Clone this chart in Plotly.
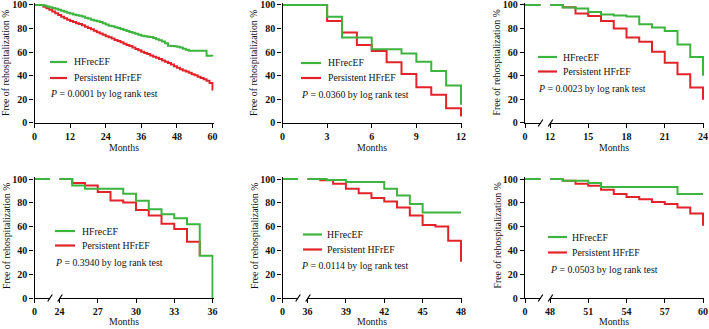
import plotly.graph_objects as go

W, H = 709, 329
GREEN = "#3db43f"
RED = "#e3232a"
FONT = "Liberation Serif"
TXT = "#111111"

# ---------------- data (months, % free of rehospitalization) ----------------
series_names = ["HFrecEF", "Persistent HFrEF"]
p_values = ["0.0001", "0.0360", "0.0023", "0.3940", "0.0114", "0.0503"]
y_ticks = [0, 20, 40, 60, 80, 100]
x_ticks = [
    [0, 12, 24, 36, 48, 60],
    [0, 3, 6, 9, 12],
    [12, 15, 18, 21, 24],
    [24, 27, 30, 33, 36],
    [36, 39, 42, 45, 48],
    [48, 51, 54, 57, 60],
]

# Panel 1: whole follow-up 0-60 months
p1_t = [0, 1, 2, 3, 4, 5, 6, 7, 8, 9, 10, 11, 12, 13, 14, 15, 16, 17, 18, 19, 20,
        21, 22, 23, 24, 25, 26, 27, 28, 29, 30, 31, 32, 33, 34, 35, 36, 37, 38, 39, 40,
        41, 42, 43, 44, 45, 46, 47, 48, 49, 50, 51, 52, 53, 54, 55, 56, 57, 58, 59, 60]
p1_hfrecef = [100, 100, 100, 99.5, 98.8, 98, 97.4, 96.8, 96, 95.2,
              94.3, 93.5, 92.7, 92, 91.4, 90.8, 90.2, 89.3, 88.5, 87.6,
              86.8, 86.2, 85.5, 84.5, 83.5, 82.5, 82, 81.2, 80.5, 79.6,
              78.8, 78, 77.2, 76.5, 75.6, 74.8, 74, 73.6, 73.2, 72.8,
              72, 71, 70.2, 69, 67.5, 65.5, 65.2, 65, 64.6, 64,
              63, 62, 61.3, 61.2, 61.2, 61.2, 61.2, 61.2, 57, 57, 56.5]
p1_persistent = [100, 100, 100, 98.5, 97.3, 96, 94.5, 93, 91.5, 90,
                 88.8, 87.6, 86.5, 85.5, 84.6, 83.8, 82.8, 81.6, 80.6, 79.5,
                 78.2, 77, 75.8, 74.8, 73.6, 72.6, 71.6, 70.4, 69.4, 68.4,
                 67.2, 66.2, 65.2, 64, 62.8, 61.6, 60.4, 59.4, 58.4, 57.2,
                 56.2, 55.2, 54.2, 53, 51.9, 50.8, 49.5, 48, 46.8, 45.6,
                 44.6, 43.6, 42.6, 41.4, 40.4, 39.2, 38.2, 37, 35.8, 34, 27.5]

# Panel 2: 0-12 months
p2_t = [0, 3, 4, 5, 6, 7, 8, 9, 10, 11, 12]
p2_hfrecef = [100, 90, 72.5, 72.5, 62.4, 62.4, 59, 52, 44, 31.7, 15.5]
p2_persistent = [100, 86.5, 76.7, 66, 61, 51.4, 41.6, 30.3, 23.9, 12.6, 5.6]

# Panel 3: 12-24 months
p3_t = [0, 13, 14, 15, 16, 17, 18, 19, 20, 21, 22, 23, 24]
p3_hfrecef = [100, 97.8, 97, 94, 92, 91, 90.2, 83.7, 81, 78, 66.6, 56, 40]
p3_persistent = [100, 98.2, 92.7, 90.7, 86.5, 80, 72.5, 68.8, 60.4, 51, 41.3, 30, 19.7]

# Panel 4: 24-36 months
p4_t_hfrecef = [0, 25, 26, 27, 28, 29, 30, 31, 32, 33, 34, 35, 36]
p4_hfrecef = [100, 94.6, 91.8, 91.8, 91.8, 87.6, 81.7, 74.6, 70.4, 67, 62, 35.5, 0]
p4_t_persistent = [0, 25, 26, 27, 28, 29, 30, 31, 32, 33, 34, 35]
p4_persistent = [100, 96.6, 94.6, 89, 82, 80.3, 74, 69.3, 62.3, 58, 47.3, 35.5]

# Panel 5: 36-48 months
p5_t_hfrecef = [0, 37.5, 39, 42, 43, 44, 45, 48]
p5_hfrecef = [100, 99.2, 97.5, 91.8, 86.2, 79, 71.8, 71.8]
p5_t_persistent = [0, 37, 38, 39, 40, 41, 42, 43, 44, 45, 46, 47, 48]
p5_persistent = [100, 99, 96, 91.8, 88, 84, 81, 76, 69.3, 61.4, 60, 48.2, 30.4]

# Panel 6: 48-60 months
p6_t_hfrecef = [0, 49, 51, 52, 58, 60]
p6_hfrecef = [100, 98.6, 96.6, 93.2, 87.3, 87.3]
p6_t_persistent = [0, 49, 50, 51, 52, 53, 54, 55, 56, 57, 58, 59, 60]
p6_persistent = [100, 98.6, 96, 94.4, 91, 87.3, 84.8, 83, 80.6, 79, 76, 71, 60.8]

panel_data = [
    ((p1_t, p1_hfrecef), (p1_t, p1_persistent)),
    ((p2_t, p2_hfrecef), (p2_t, p2_persistent)),
    ((p3_t, p3_hfrecef), (p3_t, p3_persistent)),
    ((p4_t_hfrecef, p4_hfrecef), (p4_t_persistent, p4_persistent)),
    ((p5_t_hfrecef, p5_hfrecef), (p5_t_persistent, p5_persistent)),
    ((p6_t_hfrecef, p6_hfrecef), (p6_t_persistent, p6_persistent)),
]

# ---------------- layout geometry (pixels) ----------------
rows = [(123, 5), (298, 179)]          # pixel of y=0, y=100
months_y = [147, 321.5]
ytitle_y = [63, 236]
panels = [
    dict(row=0, x0=34.5, x1=212.5, brk=False, xr=(0, 60),
         leg=(50, 67, 72, 62, 78, 48, 93.5)),
    dict(row=0, x0=282.5, x1=461, brk=False, xr=(0, 12),
         leg=(301, 321, 326, 63, 78, 299, 94)),
    dict(row=0, x0=525, x1=703, brk=True, xr=(12, 24),
         leg=(538, 557, 561, 57, 71.5, 536, 88)),
    dict(row=1, x0=34.5, x1=212.5, brk=True, xr=(24, 36),
         leg=(55, 75, 80, 231, 245.5, 53, 262)),
    dict(row=1, x0=282.5, x1=461, brk=True, xr=(36, 48),
         leg=(303, 322, 325, 234.5, 249.5, 299, 265)),
    dict(row=1, x0=525, x1=703, brk=True, xr=(48, 60),
         leg=(548, 567, 570, 237, 252.5, 548, 269)),
]


def fx(p):
    return p / W


def fy(p):
    return 1 - p / H


def ax_ref(letter, n):
    return letter if n == 1 else f"{letter}{n}"


def ax_key(letter, n):
    return f"{letter}axis" if n == 1 else f"{letter}axis{n}"


axis_style = dict(
    showline=True, linecolor="black", linewidth=1.3,
    ticks="outside", ticklen=4, tickwidth=1.3, tickcolor="black",
    showgrid=False, zeroline=False, fixedrange=True, automargin=False,
    ticklabeloverflow="allow",
    tickfont=dict(family=FONT, size=10, color=TXT, weight="bold"),
)

fig = go.Figure()
layout = {}
annotations = []
shapes = []
extra_n = 7
text_font = dict(family=FONT, size=9.8, color=TXT)

for i, pn in enumerate(panels, start=1):
    y0px, y100px = rows[pn["row"]]
    ppu = (y0px - y100px) / 100.0
    ytop = 101.3
    ydom = [fy(y0px), fy(y100px - (ytop - 100) * ppu)]
    yref = ax_ref("y", i)
    xl = ax_ref("x", i)

    xaxes = []
    if pn["brk"]:
        seg_end = pn["x0"] + 15.5
        right_start = pn["x0"] + 25
        layout[ax_key("x", i)] = dict(axis_style, domain=[fx(pn["x0"]), fx(seg_end)],
                                      range=[0, 1], tickvals=[0], anchor=yref)
        xaxes.append(xl)
        ppm = (pn["x1"] - right_start) / (pn["xr"][1] - pn["xr"][0])
        xr_ref = ax_ref("x", extra_n)
        layout[ax_key("x", extra_n)] = dict(
            axis_style, domain=[fx(right_start), fx(pn["x1"] + 1.2)],
            range=[pn["xr"][0], pn["xr"][1] + 1.2 / ppm],
            tickvals=x_ticks[i - 1], anchor=yref)
        xaxes.append(xr_ref)
        extra_n += 1
        # break marks
        for cx in (seg_end, right_start + 0.5):
            shapes.append(dict(type="line", xref="paper", yref="paper",
                               x0=fx(cx - 2.3), y0=fy(y0px + 3.5),
                               x1=fx(cx + 2.3), y1=fy(y0px - 3.5),
                               line=dict(color="black", width=1.2)))
    else:
        ppm = (pn["x1"] - pn["x0"]) / (pn["xr"][1] - pn["xr"][0])
        layout[ax_key("x", i)] = dict(
            axis_style, domain=[fx(pn["x0"]), fx(pn["x1"] + 1.2)],
            range=[pn["xr"][0], pn["xr"][1] + 1.2 / ppm],
            tickvals=x_ticks[i - 1], anchor=yref)
        xaxes.append(xl)

    layout[ax_key("y", i)] = dict(axis_style, domain=ydom, range=[0, ytop],
                                  tickvals=y_ticks, anchor=xl)

    (tg, vg), (tr, vr) = panel_data[i - 1]
    for xa in xaxes:
        fig.add_trace(go.Scatter(x=tr, y=vr, mode="lines", name=series_names[1],
                                 line=dict(color=RED, width=2, shape="hv"),
                                 xaxis=xa, yaxis=yref, showlegend=False, hoverinfo="skip"))
        fig.add_trace(go.Scatter(x=tg, y=vg, mode="lines", name=series_names[0],
                                 line=dict(color=GREEN, width=2, shape="hv"),
                                 xaxis=xa, yaxis=yref, showlegend=False, hoverinfo="skip"))

    # axis titles
    annotations.append(dict(text="Free of rehospitalization %", xref="paper", yref="paper",
                            x=fx(pn["x0"] - 28.5), y=fy(ytitle_y[pn["row"]]),
                            xanchor="center", yanchor="middle", textangle=-90,
                            showarrow=False, font=text_font))
    annotations.append(dict(text="Months", xref="paper", yref="paper",
                            x=fx((pn["x0"] + pn["x1"]) / 2), y=fy(months_y[pn["row"]]),
                            xanchor="center", yanchor="middle",
                            showarrow=False, font=text_font))

    # legend-like key
    sx0, sx1, tx, gy, ry, px_, py_ = pn["leg"]
    for col, yy, name in ((GREEN, gy, series_names[0]), (RED, ry, series_names[1])):
        shapes.append(dict(type="line", xref="paper", yref="paper",
                           x0=fx(sx0), x1=fx(sx1), y0=fy(yy), y1=fy(yy),
                           line=dict(color=col, width=2.2)))
        annotations.append(dict(text=name, xref="paper", yref="paper",
                                x=fx(tx), y=fy(yy), xanchor="left", yanchor="middle",
                                showarrow=False, font=text_font))
    annotations.append(dict(text=f"<i>P</i> = {p_values[i - 1]} by log rank test",
                            xref="paper", yref="paper", x=fx(px_), y=fy(py_),
                            xanchor="left", yanchor="middle", showarrow=False,
                            font=text_font))

fig.update_layout(
    **layout,
    width=W, height=H,
    margin=dict(l=0, r=0, t=0, b=0),
    paper_bgcolor="white", plot_bgcolor="rgba(0,0,0,0)",
    showlegend=False,
    annotations=annotations, shapes=shapes,
)

fig.write_html(
    "out.html",
    config={"displayModeBar": False},
    post_script="document.body.style.margin='0';document.body.style.overflow='hidden';",
)
